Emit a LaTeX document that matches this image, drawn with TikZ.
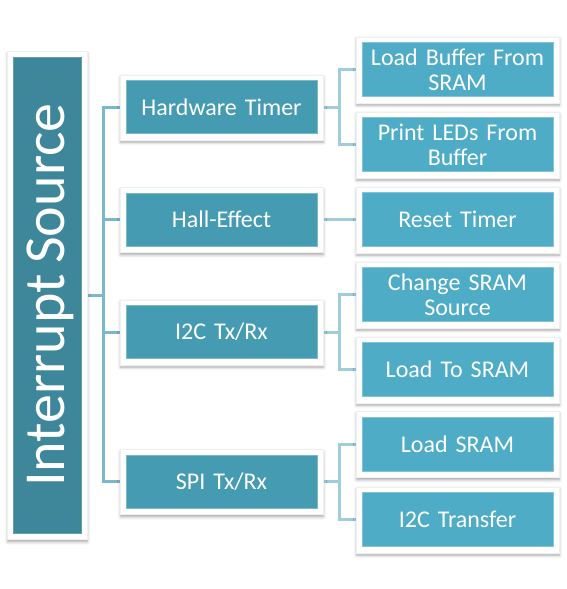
\documentclass[tikz,border=0pt]{standalone}
\usepackage{fontspec}
\setmainfont{Carlito}[WordSpace=0.8]
\usetikzlibrary{backgrounds,shadows.blur}
\pgfdeclarelayer{conn}
\pgfdeclarelayer{frames}
\pgfsetlayers{conn,frames,main}
\definecolor{rootc}{HTML}{3E879B}
\definecolor{lonec}{HTML}{459BB2}
\definecolor{ltwoc}{HTML}{4EACC6}
\definecolor{trunkc}{HTML}{7AB9CD}
\definecolor{branchc}{HTML}{A0CDDC}
\tikzset{
  base/.style={text=white, inner sep=0pt, align=center, font=\fontsize{24}{25}\selectfont},
  rootbox/.style={base, fill=rootc, draw=rootc!80!white, line width=0.6pt, minimum width=68pt, minimum height=476pt},
  lonebox/.style={base, fill=lonec, draw=lonec!70!white, line width=0.6pt, minimum width=191pt, minimum height=53pt, text width=185pt},
  ltwobox/.style={base, fill=ltwoc, draw=ltwoc!70!white, line width=0.6pt, minimum width=191pt, minimum height=54pt, text width=185pt},
  frame/.style={fill=white, draw=black!6, line width=0.4pt,
    blur shadow={shadow xshift=0.5pt, shadow yshift=-2.5pt, shadow blur radius=3pt, shadow opacity=35}},
  trunk/.style={draw=trunkc, line width=3pt},
  branch/.style={draw=branchc, line width=3pt},
}
\begin{document}
\begin{tikzpicture}[x=1pt,y=-1pt]
\useasboundingbox (0,0) rectangle (566,589);
\node[rootbox] (root) at (47,295) {\rotatebox{90}{\raisebox{-3pt}[\height][\depth]{\fontsize{58}{58}\selectfont Interrupt Source}}};
\node[lonebox] (hw) at (221.5,107) {Hardware Timer};
\node[lonebox] (he) at (221.5,219.5) {Hall-Effect};
\node[lonebox] (ic) at (221.5,332) {I2C Tx/Rx};
\node[lonebox] (spi) at (221.5,481.5) {SPI Tx/Rx};
\node[ltwobox] (lbfs) at (457.5,69.5) {Load Buffer From\\SRAM};
\node[ltwobox] (plfb) at (457.5,144.5) {Print LEDs From\\Buffer};
\node[ltwobox] (rt) at (457.5,219.5) {Reset Timer};
\node[ltwobox] (css) at (457.5,294.5) {Change SRAM\\Source};
\node[ltwobox] (lts) at (457.5,369.5) {Load To SRAM};
\node[ltwobox] (ls) at (457.5,444) {Load SRAM};
\node[ltwobox] (ict) at (457.5,519.5) {I2C Transfer};
\coordinate (tk) at (103,0);
\coordinate (bk) at (339,0);
\begin{pgfonlayer}{frames}
\foreach \n in {root,hw,he,ic,spi,lbfs,plfb,rt,css,lts,ls,ict}
  \path[frame] ([shift={(-5.5,-5.5)}]\n.north west) rectangle ([shift={(5.5,6)}]\n.south east);
\end{pgfonlayer}
\begin{pgfonlayer}{conn}
\draw[trunk] (root.east) -- (root.east -| tk);
\draw[trunk] (hw.west) -| (tk |- spi.west) -- (spi.west);
\draw[trunk] (tk |- he.west) -- (he.west);
\draw[trunk] (tk |- ic.west) -- (ic.west);
\draw[branch] (hw.east) -- (hw.east -| bk);
\draw[branch] (lbfs.west) -| (bk |- plfb.west) -- (plfb.west);
\draw[branch] (he.east) -- (rt.west);
\draw[branch] (ic.east) -- (ic.east -| bk);
\draw[branch] (css.west) -| (bk |- lts.west) -- (lts.west);
\draw[branch] (spi.east) -- (spi.east -| bk);
\draw[branch] (ls.west) -| (bk |- ict.west) -- (ict.west);
\end{pgfonlayer}
\end{tikzpicture}
\end{document}
